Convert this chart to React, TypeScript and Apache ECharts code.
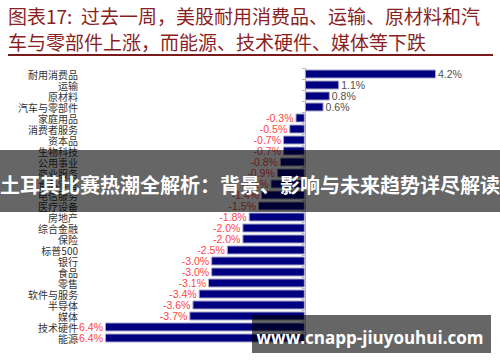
import React, { useEffect, useRef } from "react";
import * as echarts from "echarts";

const categories = [
  "耐用消费品", "运输", "原材料", "汽车与零部件", "家庭用品", "消费者服务", "资本品",
  "生物科技", "公用事业", "商业服务", "食品零售", "电信服务", "医疗设备", "房地产",
  "综合金融", "保险", "标普500", "银行", "食品", "零售", "软件与服务", "半导体",
  "媒体", "技术硬件", "能源",
];
const values = [
  4.2, 1.1, 0.8, 0.6, -0.3, -0.5, -0.7, -0.7, -0.8, -0.9, -1.1, -1.4, -1.5, -1.8,
  -2.0, -2.0, -2.5, -3.0, -3.0, -3.1, -3.4, -3.6, -3.7, -6.4, -6.4,
];
const titleLines = [
  "图表17:  过去一周，美股耐用消费品、运输、原材料和汽",
  "车与零部件上涨，而能源、技术硬件、媒体等下跌",
];
const overlayText = "土耳其比赛热潮全解析：背景、影响与未来趋势详尽解读";
const siteText = "www.cnapp-jiuyouhui.com";

export default function App() {
  const ref = useRef<HTMLDivElement>(null);
  useEffect(() => {
    if (!ref.current) return;
    const chart = echarts.init(ref.current, undefined, { renderer: "svg" });
    const cjk = "'Noto Sans CJK SC', sans-serif";
    chart.setOption({
      animation: false,
      backgroundColor: "#ffffff",
      grid: {
        left: 105,
        right: 64,
        top: 68.5,
        bottom: 18.5,
        containLabel: false,
        outerBoundsMode: "none",
      },
      xAxis: {
        type: "value",
        min: -6.4,
        max: 4.2,
        show: false,
        splitLine: { show: false },
      },
      yAxis: {
        type: "category",
        data: categories,
        inverse: true,
        axisLine: { show: true, onZero: true, lineStyle: { color: "#b0b0c4", width: 1 } },
        axisTick: { show: true, length: 3, lineStyle: { color: "#b0b0c4" } },
        axisLabel: {
          margin: 27,
          fontSize: 10,
          fontFamily: cjk,
          color: "#333333",
          interval: 0,
        },
      },
      series: [
        {
          type: "bar",
          barCategoryGap: "18%",
          itemStyle: { color: "#000080", borderColor: "#a8a8c8", borderWidth: 1 },
          label: {
            show: true,
            fontSize: 10.5,
            fontFamily: "'Liberation Sans', Arial, sans-serif",
            distance: 2,
            formatter: (p: any) => p.value.toFixed(1) + "%",
          },
          data: values.map((v) => ({
            value: v,
            label: { position: v < 0 ? "left" : "right", color: v < 0 ? "#ff4545" : "#505050" },
          })),
        },
      ],
      graphic: [
        {
          type: "text",
          left: 8,
          top: 6,
          style: { text: titleLines[0], fontSize: 19, fontFamily: cjk, fill: "#8b1e1e" },
        },
        {
          type: "text",
          left: 8,
          top: 32,
          style: { text: titleLines[1], fontSize: 19, fontFamily: cjk, fill: "#8b1e1e" },
        },
        {
          type: "line",
          shape: { x1: 8, y1: 55, x2: 493, y2: 55 },
          style: { stroke: "#7b1a1a", lineWidth: 2 },
        },
        {
          type: "rect",
          z: 100,
          shape: { x: 0, y: 150, width: 500, height: 62 },
          style: { fill: "rgba(0,0,0,0.6)" },
        },
        {
          type: "text",
          z: 101,
          x: 250,
          y: 184,
          style: {
            text: overlayText,
            fontSize: 20,
            fontWeight: "bold",
            fontFamily: cjk,
            fill: "#ffffff",
            align: "center",
            verticalAlign: "middle",
          },
        },
        {
          type: "rect",
          z: 100,
          shape: { x: 252, y: 315, width: 239, height: 38 },
          style: { fill: "rgba(0,0,0,0.6)" },
        },
        {
          type: "text",
          z: 101,
          x: 370,
          y: 337,
          style: {
            text: siteText,
            fontSize: 17,
            fontWeight: "bold",
            fontFamily: "'Open Sans', 'Noto Sans', sans-serif",
            fill: "#ffffff",
            align: "center",
            verticalAlign: "middle",
          },
        },
      ],
    });
    return () => chart.dispose();
  }, []);
  return (
    <div
      ref={ref}
      style={{ position: "absolute", left: 0, top: 0, width: 500, height: 362 }}
    />
  );
}
